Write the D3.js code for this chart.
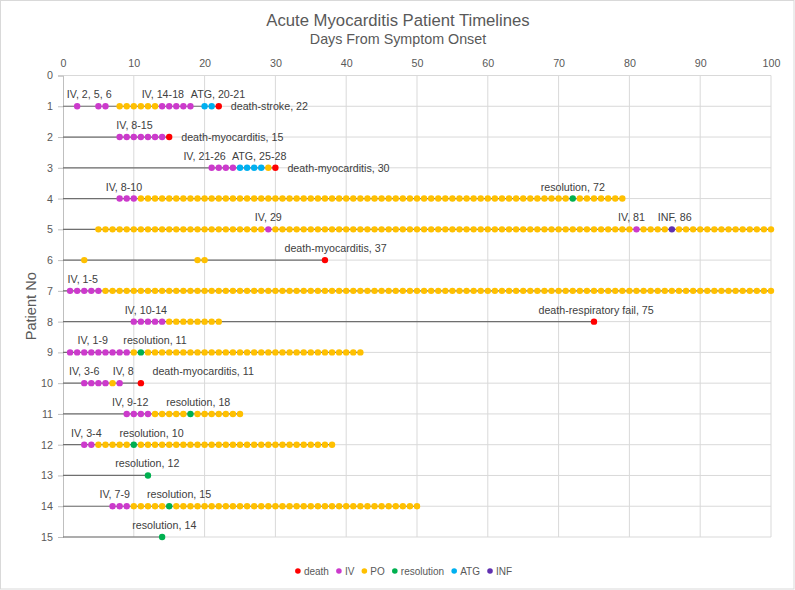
<!DOCTYPE html>
<html>
<head>
<meta charset="utf-8">
<script src="https://cdn.jsdelivr.net/npm/d3@7"></script>
<style>
  body { margin: 0; background: #fff; }
  svg text { font-family: "Liberation Sans", Arial, sans-serif; }
</style>
</head>
<body>
<div id="chart"></div>
<script>
// Patient rows and the last day of each timeline
const patients = [1, 2, 3, 4, 5, 6, 7, 8, 9, 10, 11, 12, 13, 14, 15];
const lastDay = [22, 15, 30, 79, 100, 37, 100, 75, 42, 11, 25, 38, 12, 50, 14];

// Daily events: [patient, firstDay, lastDay]
const ivRuns = [[1, 2, 2], [1, 5, 6], [1, 14, 18], [2, 8, 14], [3, 21, 24], [4, 8, 10],
  [5, 29, 29], [5, 81, 81], [7, 1, 5], [8, 10, 14], [9, 1, 9], [10, 3, 6], [10, 8, 8],
  [11, 9, 12], [12, 3, 4], [14, 7, 9]];
const poRuns = [[1, 8, 13], [3, 29, 29], [4, 11, 71], [4, 73, 79], [5, 5, 28], [5, 30, 80],
  [5, 82, 85], [5, 87, 100], [6, 3, 3], [6, 19, 20], [7, 6, 100], [8, 15, 22], [9, 10, 10],
  [9, 12, 42], [10, 7, 7], [11, 13, 17], [11, 19, 25], [12, 5, 9], [12, 11, 38],
  [14, 10, 14], [14, 16, 50]];
const atgRuns = [[1, 20, 21], [3, 25, 28]];
const infRuns = [[5, 86, 86]];
const resolutionRuns = [[4, 72, 72], [9, 11, 11], [11, 18, 18], [12, 10, 10], [13, 12, 12],
  [14, 15, 15], [15, 14, 14]];
const deathRuns = [[1, 22, 22], [2, 15, 15], [3, 30, 30], [6, 37, 37], [8, 75, 75], [10, 11, 11]];

// Data labels: [patient, day, text, placement]
const labels = [
  [1, 3.7, "IV, 2, 5, 6", "above"], [1, 14.1, "IV, 14-18", "above"],
  [1, 21.9, "ATG, 20-21", "above"], [1, 22, "death-stroke, 22", "right"],
  [2, 10.1, "IV, 8-15", "above"], [2, 15, "death-myocarditis, 15", "right"],
  [3, 20, "IV, 21-26", "above"], [3, 27.7, "ATG, 25-28", "above"],
  [3, 30, "death-myocarditis, 30", "right"],
  [4, 8.6, "IV, 8-10", "above"], [4, 72, "resolution, 72", "above"],
  [5, 29, "IV, 29", "above"], [5, 80.3, "IV, 81", "above"], [5, 86.4, "INF, 86", "above"],
  [6, 38.5, "death-myocarditis, 37", "above"],
  [7, 2.8, "IV, 1-5", "above"],
  [8, 11.7, "IV, 10-14", "above"], [8, 75.3, "death-respiratory fail, 75", "above"],
  [9, 4.2, "IV, 1-9", "above"], [9, 13, "resolution, 11", "above"],
  [10, 3, "IV, 3-6", "above"], [10, 8.5, "IV, 8", "above"],
  [10, 19.8, "death-myocarditis, 11", "above"],
  [11, 9.5, "IV, 9-12", "above"], [11, 19.1, "resolution, 18", "above"],
  [12, 3.3, "IV, 3-4", "above"], [12, 12.5, "resolution, 10", "above"],
  [13, 11.9, "resolution, 12", "above"],
  [14, 7.3, "IV, 7-9", "above"], [14, 16.4, "resolution, 15", "above"],
  [15, 14.3, "resolution, 14", "above"]
];

const xTicks = [0, 10, 20, 30, 40, 50, 60, 70, 80, 90, 100];
const yTicks = [0, 1, 2, 3, 4, 5, 6, 7, 8, 9, 10, 11, 12, 13, 14, 15];

const series = [
  { name: "death", color: "#FF0000", runs: deathRuns },
  { name: "IV", color: "#CC3ACC", runs: ivRuns },
  { name: "PO", color: "#FFC000", runs: poRuns },
  { name: "resolution", color: "#00B050", runs: resolutionRuns },
  { name: "ATG", color: "#00B0F0", runs: atgRuns },
  { name: "INF", color: "#6030B0", runs: infRuns }
];

const W = 795, H = 590;
const svg = d3.select("#chart").append("svg")
  .attr("width", W).attr("height", H);

svg.append("rect").attr("x", 0.5).attr("y", 0.5).attr("width", W - 1.5).attr("height", H - 1.5)
  .attr("fill", "#fff").attr("stroke", "#D9D9D9");

const x = d3.scaleLinear().domain([0, 100]).range([63, 771]);
const y = d3.scaleLinear().domain([0, 15]).range([75.5, 537]);

// Gridlines
svg.append("g").selectAll("line").data(xTicks.slice(1)).join("line")
  .attr("x1", d => x(d)).attr("x2", d => x(d))
  .attr("y1", y(0)).attr("y2", y(15))
  .attr("stroke", "#D9D9D9");
svg.append("g").selectAll("line").data(yTicks).join("line")
  .attr("x1", x(0)).attr("x2", x(100))
  .attr("y1", d => y(d)).attr("y2", d => y(d))
  .attr("stroke", "#D9D9D9");

// Top x axis
const xAxis = svg.append("g")
  .attr("transform", `translate(0,${y(0) - 9})`)
  .call(d3.axisTop(x).tickValues(xTicks).tickSize(0).tickPadding(0));
xAxis.select(".domain").remove();
xAxis.selectAll("text").attr("fill", "#595959").style("font-size", "10.7px")
  .style("font-family", "'Liberation Sans', Arial, sans-serif");

// Left y axis
const yAxis = svg.append("g")
  .attr("transform", `translate(${x(0)},0)`)
  .call(d3.axisLeft(y).tickValues(yTicks).tickSize(5).tickPadding(5));
yAxis.select(".domain").attr("stroke", "#BFBFBF");
yAxis.selectAll(".tick line").attr("stroke", "#BFBFBF");
yAxis.selectAll("text").attr("fill", "#595959").style("font-size", "10.7px")
  .style("font-family", "'Liberation Sans', Arial, sans-serif");

// Patient baselines
svg.append("g").selectAll("line").data(patients).join("line")
  .attr("x1", x(0)).attr("x2", (d, i) => x(lastDay[i]))
  .attr("y1", d => y(d)).attr("y2", d => y(d))
  .attr("stroke", "#6F6F6F").attr("stroke-width", 1.2);

// Daily markers
series.forEach(s => {
  const pts = [];
  s.runs.forEach(([p, a, b]) => {
    for (let d = a; d <= b; d++) pts.push([p, d]);
  });
  svg.append("g").selectAll("circle").data(pts).join("circle")
    .attr("cx", d => x(d[1])).attr("cy", d => y(d[0]))
    .attr("r", 3.2).attr("fill", s.color);
});

// Data labels
svg.append("g").selectAll("text").data(labels).join("text")
  .attr("x", d => d[3] === "right" ? x(d[1]) + 12 : x(d[1]))
  .attr("y", d => d[3] === "right" ? y(d[0]) : y(d[0]) - 12)
  .attr("text-anchor", d => d[3] === "right" ? "start" : "middle")
  .attr("dominant-baseline", "central")
  .attr("fill", "#404040").style("font-size", "10.7px")
  .text(d => d[2]);

// Titles
svg.append("text").attr("x", 398).attr("y", 26).attr("text-anchor", "middle")
  .attr("fill", "#595959").style("font-size", "16.7px")
  .text("Acute Myocarditis Patient Timelines");
svg.append("text").attr("x", 398).attr("y", 44).attr("text-anchor", "middle")
  .attr("fill", "#595959").style("font-size", "14.3px")
  .text("Days From Symptom Onset");
svg.append("text")
  .attr("transform", `translate(36,${(y(0) + y(15)) / 2}) rotate(-90)`)
  .attr("text-anchor", "middle")
  .attr("fill", "#595959").style("font-size", "14.6px")
  .text("Patient No");

// Legend: lay out items one after another, centred under the plot
const legend = svg.append("g");
const items = legend.selectAll("g").data(series).join("g");
items.append("circle").attr("r", 2.8).attr("fill", d => d.color);
items.append("text").attr("x", 6).attr("dominant-baseline", "central")
  .attr("fill", "#595959").style("font-size", "10px")
  .text(d => d.name);
let cursor = 0;
items.each(function () {
  const w = d3.select(this).select("text").node().getComputedTextLength();
  d3.select(this).attr("transform", `translate(${cursor},0)`);
  cursor += 6 + w + 10;
});
const legendW = cursor - 10;
legend.attr("transform", `translate(${402 - legendW / 2 + 3},571)`);
</script>
</body>
</html>
